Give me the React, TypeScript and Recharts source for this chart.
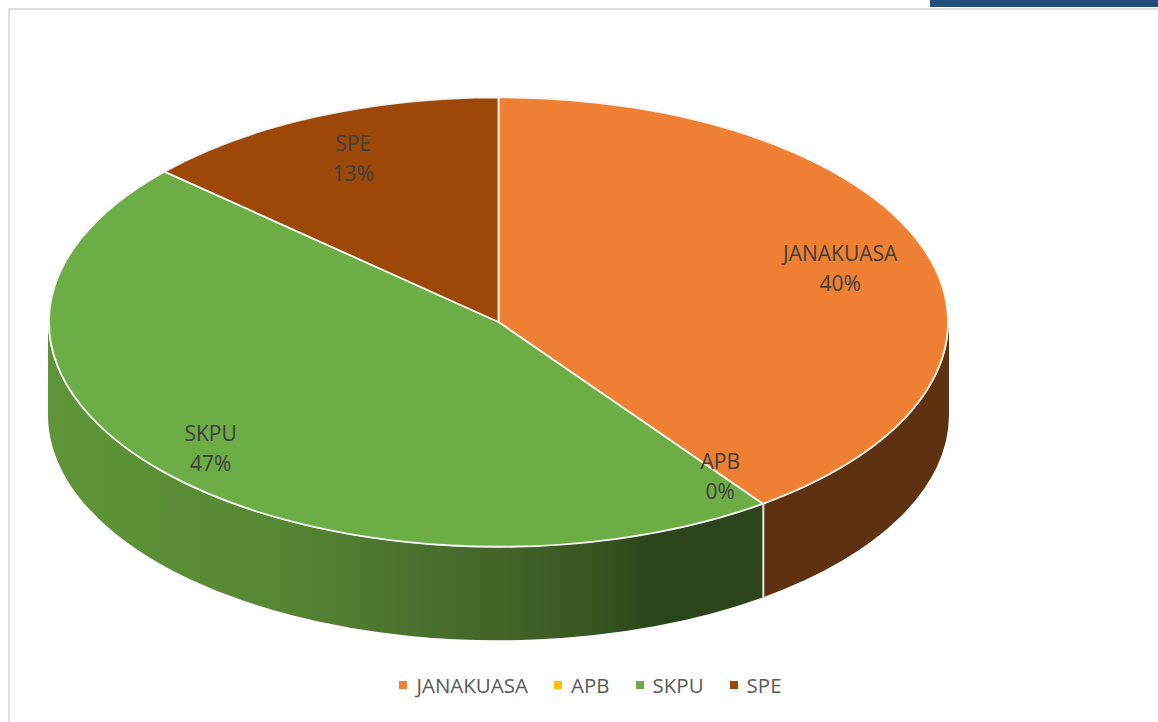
import React from 'react';
import { PieChart, Pie, Legend } from 'recharts';

const categories = ['JANAKUASA', 'APB', 'SKPU', 'SPE'];
const counts = [6, 0, 7, 2];
const topColors = ['#ef7f32', '#ffc000', '#6cad46', '#9d4808'];
const wallColors = ['#5e3110', '#7f6000', 'url(#skpuWall)', '#5e2c05'];

// nudges for labels that Excel moved off the default spot
const labelNudgeX = [4, 13, -24, -1];
const labelNudgeY = [1, 10, 7, -2];

const pieData = categories.map((name, i) => ({
  name,
  value: counts[i],
  fill: topColors[i],
  wall: wallColors[i],
}));

const FONT = '"Open Sans", sans-serif';
const SQUASH = 0.5;
const DEPTH = 93;
const RAD = Math.PI / 180;

const point = (cx: number, cy: number, r: number, deg: number) => [
  cx + r * Math.cos(deg * RAD),
  cy - r * SQUASH * Math.sin(deg * RAD),
];

// top face: the sector the pie computed, flattened to an ellipse
const TopSector = (props: any) => {
  const { cx, cy, outerRadius: r, startAngle, endAngle, fill } = props;
  if (Math.abs(startAngle - endAngle) < 0.01) return null;
  const [x1, y1] = point(cx, cy, r, startAngle);
  const [x2, y2] = point(cx, cy, r, endAngle);
  const large = Math.abs(startAngle - endAngle) > 180 ? 1 : 0;
  const d = `M${cx},${cy}L${x1},${y1}A${r},${r * SQUASH} 0 ${large} 1 ${x2},${y2}Z`;
  return <path d={d} fill={fill} stroke="#f4f4f0" strokeWidth={1.8} strokeLinejoin="round" />;
};

// side wall: only the part of the sector that faces the viewer
const WallSector = (props: any) => {
  const { cx, cy, outerRadius: r, startAngle, endAngle, payload } = props;
  const from = Math.min(startAngle, 0);
  const to = Math.max(endAngle, -180);
  if (from <= to) return null;
  const [x1, y1] = point(cx, cy, r, from);
  const [x2, y2] = point(cx, cy, r, to);
  const ry = r * SQUASH;
  const d = `M${x1},${y1}A${r},${ry} 0 0 1 ${x2},${y2}L${x2},${y2 + DEPTH}A${r},${ry} 0 0 0 ${x1},${y1 + DEPTH}Z`;
  return (
    <g>
      <path d={d} fill={payload.wall ?? props.wall} />
      {from < 0 && <line x1={x1} y1={y1} x2={x1} y2={y1 + DEPTH} stroke="#e8e8e4" strokeWidth={2} />}
    </g>
  );
};

const renderLabel = (props: any) => {
  const { cx, cy, outerRadius: r, midAngle, percent, name, index } = props;
  const [x, y] = point(cx, cy, r * 0.79, midAngle);
  const px = x + labelNudgeX[index];
  const py = y + labelNudgeY[index];
  return (
    <text x={px} y={py} textAnchor="middle" fill="#404040" fontFamily={FONT} fontSize={21}>
      <tspan x={px} dy={-7}>{name}</tspan>
      <tspan x={px} dy={30}>{`${Math.round(percent * 100)}%`}</tspan>
    </text>
  );
};

// the chart has two pies, so the rows come straight from the category lists
const LegendRow = () => (
  <div style={{ display: 'flex', justifyContent: 'center', fontFamily: FONT, fontSize: 20.5, color: '#595959', lineHeight: '28px' }}>
    {categories.map((name, i) => (
      <div key={name} style={{ display: 'flex', alignItems: 'center', marginLeft: i ? 26 : 0 }}>
        <span style={{ width: 8, height: 8, background: topColors[i], marginRight: 9 }} />
        {name}
      </div>
    ))}
  </div>
);

export default function App() {
  return (
    <div style={{ position: 'absolute', left: 0, top: 0, width: 1158, height: 722, overflow: 'hidden', background: '#fff' }}>
      <div style={{ position: 'absolute', left: 8, top: 8, width: 1150, height: 714, borderLeft: '2px solid #e0e0e0', borderTop: '2px solid #e0e0e0', boxSizing: 'border-box' }} />
      <div style={{ position: 'absolute', left: 930, top: 0, width: 228, height: 7, background: '#1f4e79' }} />
      <PieChart width={1158} height={722} margin={{ top: 0, right: 0, bottom: 0, left: 0 }} style={{ position: 'absolute', left: 0, top: 0 }}>
        <defs>
          <linearGradient id="skpuWall" gradientUnits="userSpaceOnUse" x1={48} y1={0} x2={763} y2={0}>
            <stop offset="0%" stopColor="#5f9538" />
            <stop offset="32%" stopColor="#568733" />
            <stop offset="52%" stopColor="#4a702d" />
            <stop offset="65%" stopColor="#416327" />
            <stop offset="76%" stopColor="#375620" />
            <stop offset="85%" stopColor="#2b451b" />
            <stop offset="100%" stopColor="#2b441c" />
          </linearGradient>
        </defs>
        <Pie
          data={pieData}
          dataKey="value"
          nameKey="name"
          cx={498.5}
          cy={322}
          outerRadius={450.5}
          startAngle={90}
          endAngle={-270}
          legendType="none"
          shape={WallSector}
          isAnimationActive={false}
        />
        <Pie
          data={pieData}
          dataKey="value"
          nameKey="name"
          cx={498.5}
          cy={322}
          outerRadius={449.5}
          startAngle={90}
          endAngle={-270}
          shape={TopSector}
          label={renderLabel}
          labelLine={false}
          isAnimationActive={false}
        />
        <Legend content={LegendRow} wrapperStyle={{ left: 0, width: 1181, top: 671 }} />
      </PieChart>
    </div>
  );
}
